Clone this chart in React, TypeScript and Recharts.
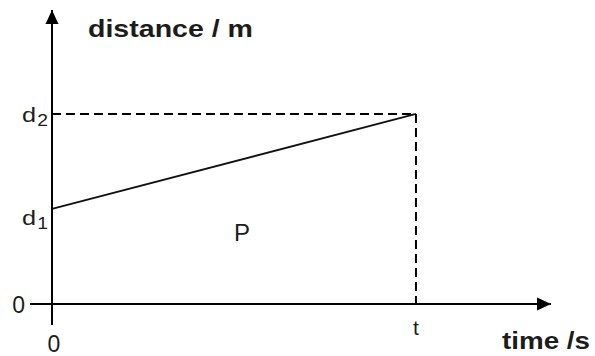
import { LineChart, Line, XAxis, YAxis, ReferenceLine, ReferenceDot } from "recharts";

// time axis: 0 and t (t drawn at 10 units)
const timeValues = [0, 10];
const distanceValues = [5, 10]; // d1 at t=0, d2 at t
const xTicks = [0, 10];
const xTickLabels = ["0", "t"];
const yTicks = [0, 5, 10];
const yTickLabels = ["0", "d1", "d2"];
const X_MAX = 13.71;
const Y_MAX = 15.47;

const data = timeValues.map((t, i) => ({ time: t, distance: distanceValues[i] }));

const FONT = "'Liberation Sans', Arial, sans-serif";
const INK = "#1c1c1c";

function YTick(props: any) {
  const { x, y, payload } = props;
  const label = yTickLabels[yTicks.indexOf(payload.value)];
  if (label === "0") {
    return (
      <g>
        <line x1={x - 22} x2={x} y1={y} y2={y} stroke="#000" strokeWidth={2} />
        <text x={x - 27} y={y + 9} textAnchor="end" fontSize={23} fontFamily={FONT} fill={INK}>0</text>
      </g>
    );
  }
  const dy = label === "d1" ? 16 : 8;
  return (
    <text x={x - 30} y={y + dy} fontSize={20} fontFamily={FONT} fill={INK} textLength={26} lengthAdjust="spacingAndGlyphs">
      <tspan fontSize={21}>d</tspan>
      <tspan fontSize={16} dy={4} dx={1}>{label.slice(1)}</tspan>
    </text>
  );
}

function XTick(props: any) {
  const { x, y, payload } = props;
  const label = xTickLabels[xTicks.indexOf(payload.value)];
  if (label === "0") {
    return (
      <g>
        <line x1={x} x2={x} y1={y} y2={y + 21} stroke="#000" strokeWidth={2} />
        <text x={x + 2} y={y + 48} textAnchor="middle" fontSize={23} fontFamily={FONT} fill={INK}>0</text>
      </g>
    );
  }
  return (
    <text x={x} y={y + 31} textAnchor="middle" fontSize={21} fontFamily={FONT} fill={INK}>{label}</text>
  );
}

const arrowRight = (p: any) => (
  <path d={`M${p.cx},${p.cy} L${p.cx - 14},${p.cy - 6.5} L${p.cx - 14},${p.cy + 6.5} Z`} fill="#000" />
);
const arrowUp = (p: any) => (
  <path d={`M${p.cx},${p.cy} L${p.cx - 6.5},${p.cy + 14} L${p.cx + 6.5},${p.cy + 14} Z`} fill="#000" />
);

export default function App() {
  return (
    <div style={{ position: "fixed", left: 0, top: 0, width: 595, height: 356, background: "#fff" }}>
      <LineChart width={595} height={356} data={data} margin={{ top: 10, right: 44, bottom: 0, left: 0 }}>
        <XAxis
          type="number"
          dataKey="time"
          domain={[0, X_MAX]}
          ticks={xTicks}
          tick={<XTick />}
          tickLine={false}
          tickSize={0}
          tickMargin={0}
          height={52}
          axisLine={{ stroke: "#000", strokeWidth: 2 }}
          label={{
            content: (p: any) => (
              <text x={p.viewBox.x + p.viewBox.width - 49} y={p.viewBox.y + 45} fontSize={24} fontWeight="bold"
                fontFamily={FONT} fill={INK} textLength={88} lengthAdjust="spacingAndGlyphs">time /s</text>
            ),
          }}
        />
        <YAxis
          type="number"
          domain={[0, Y_MAX]}
          ticks={yTicks}
          tick={<YTick />}
          tickLine={false}
          tickSize={0}
          tickMargin={0}
          width={52}
          axisLine={{ stroke: "#000", strokeWidth: 2 }}
          label={{
            content: (p: any) => (
              <text x={p.viewBox.x + p.viewBox.width + 36} y={p.viewBox.y + 27} fontSize={24} fontWeight="bold"
                fontFamily={FONT} fill={INK} textLength={165} lengthAdjust="spacingAndGlyphs">distance / m</text>
            ),
          }}
        />
        <ReferenceLine segment={[{ x: 0, y: distanceValues[1] }, { x: timeValues[1], y: distanceValues[1] }]}
          stroke="#000" strokeWidth={2} strokeDasharray="9 5" />
        <ReferenceLine segment={[{ x: timeValues[1], y: distanceValues[1] }, { x: timeValues[1], y: 0 }]}
          stroke="#000" strokeWidth={2} strokeDasharray="9 5" />
        <Line type="linear" dataKey="distance" stroke="#111" strokeWidth={1.8} dot={false} isAnimationActive={false} />
        <ReferenceDot x={5.22} y={3.74} r={0} fill="none" stroke="none"
          label={{ value: "P", position: "center", fontSize: 24, fontFamily: FONT, fill: INK }} />
        <ReferenceDot x={X_MAX} y={0} ifOverflow="visible" shape={arrowRight} />
        <ReferenceDot x={0} y={Y_MAX} ifOverflow="visible" shape={arrowUp} />
      </LineChart>
    </div>
  );
}
